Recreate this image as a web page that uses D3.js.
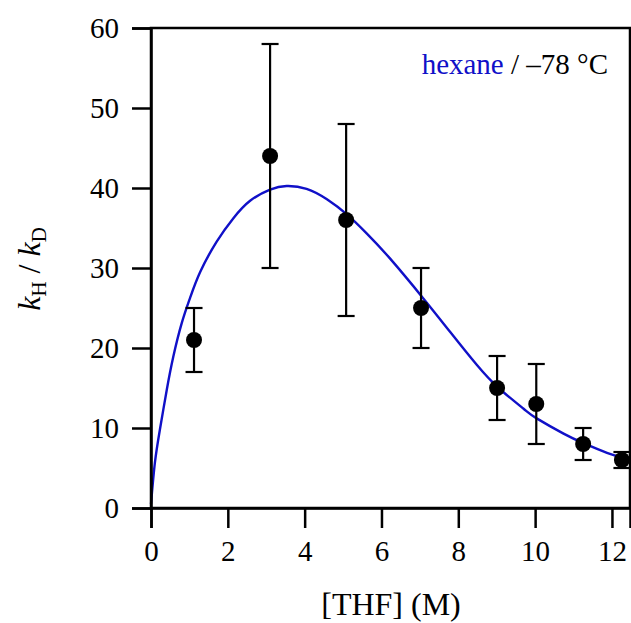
<!DOCTYPE html>
<html>
<head>
<meta charset="utf-8">
<script src="https://cdn.jsdelivr.net/npm/d3@7"></script>
<style>
  html, body { margin: 0; padding: 0; background: #fff; }
  svg { display: block; }
  text { font-family: "Palatino Linotype", Palatino, "Book Antiqua", "Liberation Serif", "DejaVu Serif", serif; fill: #000; }
</style>
</head>
<body>
<svg id="chart" width="631" height="623"></svg>
<script>
// Measured isotope effects vs [THF]
const thf      = [1.12, 3.1, 5.08, 7.03, 9.01, 10.03, 11.25, 12.26];
const kRatio   = [21, 44, 36, 25, 15, 13, 8, 6];
const errLow   = [17, 30, 24, 20, 11, 8, 6, 5];
const errHigh  = [25, 58, 48, 30, 19, 18, 10, 7];

// Fitted curve (hexane / -78 °C)
const fitX = [0, 0.10, 0.23, 0.41, 0.58, 0.80, 1.02, 1.28, 1.71, 2.14, 2.58, 3.10, 3.53, 4.05, 4.58, 5.10, 5.62, 6.22, 7.09, 7.79, 8.48, 9.05, 9.70, 10.04, 10.74, 11.26, 11.87, 12.47];
const fitY = [0.5, 5.6, 9.75, 14.75, 18.9, 23.1, 26.3, 29.5, 33.3, 36.2, 38.4, 39.8, 40.25, 39.9, 38.6, 36.7, 34.3, 31.2, 26.2, 22.0, 17.9, 15.0, 12.4, 11.2, 9.3, 8.1, 6.9, 6.0];

const xTicks = [0, 2, 4, 6, 8, 10, 12];
const yTicks = [0, 10, 20, 30, 40, 50, 60];

const svg = d3.select("#chart");
const plotLeft = 151, plotRight = 630, plotTop = 28, plotBottom = 508;

const x = d3.scaleLinear().domain([0, 12.47]).range([plotLeft, plotRight]);
const y = d3.scaleLinear().domain([0, 60]).range([plotBottom, plotTop]);

// Fitted curve
const line = d3.line()
  .x((d, i) => x(fitX[i]))
  .y((d, i) => y(fitY[i]))
  .curve(d3.curveNatural);

svg.append("path")
  .datum(fitX)
  .attr("d", line)
  .attr("fill", "none")
  .attr("stroke", "#1010c8")
  .attr("stroke-width", 2.4);

// Error bars
const eb = svg.append("g").attr("stroke", "#000").attr("stroke-width", 2.2);
const capW = 8.5;
thf.forEach((t, i) => {
  eb.append("line").attr("x1", x(t)).attr("x2", x(t)).attr("y1", y(errLow[i])).attr("y2", y(errHigh[i]));
  eb.append("line").attr("x1", x(t) - capW).attr("x2", x(t) + capW).attr("y1", y(errLow[i])).attr("y2", y(errLow[i]));
  eb.append("line").attr("x1", x(t) - capW).attr("x2", x(t) + capW).attr("y1", y(errHigh[i])).attr("y2", y(errHigh[i]));
});

// Data points
svg.append("g").selectAll("circle")
  .data(thf)
  .join("circle")
  .attr("cx", d => x(d))
  .attr("cy", (d, i) => y(kRatio[i]))
  .attr("r", 8)
  .attr("fill", "#000");

// Frame
svg.append("rect")
  .attr("x", plotLeft).attr("y", plotTop)
  .attr("width", plotRight - plotLeft).attr("height", plotBottom - plotTop)
  .attr("fill", "none").attr("stroke", "#000").attr("stroke-width", 2.5);

// Axes
const xAxis = svg.append("g")
  .attr("transform", `translate(0,${plotBottom})`)
  .call(d3.axisBottom(x).tickValues(xTicks).tickSize(20).tickPadding(12).tickFormat(d3.format("d")));
const yAxis = svg.append("g")
  .attr("transform", `translate(${plotLeft},0)`)
  .call(d3.axisLeft(y).tickValues(yTicks).tickSize(19).tickPadding(13).tickFormat(d3.format("d")));

[xAxis, yAxis].forEach(g => {
  g.attr("font-family", null).attr("font-size", null);
  g.select(".domain").attr("stroke", "#000").attr("stroke-width", 2.5);
  g.selectAll(".tick line").attr("stroke", "#000").attr("stroke-width", 2.5);
  g.selectAll(".tick text")
    .attr("font-size", 29)
    .attr("fill", "#000");
});
xAxis.selectAll(".tick text").attr("dy", "0.72em");
yAxis.selectAll(".tick text").attr("dy", "0.34em");

// Axis titles
svg.append("text")
  .attr("x", 391).attr("y", 615)
  .attr("text-anchor", "middle")
  .attr("font-size", 32)
  .text("[THF] (M)");

const yTitle = svg.append("text")
  .attr("transform", "translate(40,269) rotate(-90)")
  .attr("text-anchor", "middle")
  .attr("font-size", 32);
yTitle.append("tspan").attr("font-style", "italic").text("k");
yTitle.append("tspan").attr("font-size", 21).attr("dy", 6).text("H");
yTitle.append("tspan").attr("dy", -6).text(" / ");
yTitle.append("tspan").attr("font-style", "italic").text("k");
yTitle.append("tspan").attr("font-size", 21).attr("dy", 6).text("D");

// Condition label
const cond = svg.append("text")
  .attr("x", 608).attr("y", 74)
  .attr("text-anchor", "end")
  .attr("font-size", 29);
cond.append("tspan").attr("fill", "#1010c8").text("hexane");
cond.append("tspan").text(" / \u201378 \u00b0C");
</script>
</body>
</html>
